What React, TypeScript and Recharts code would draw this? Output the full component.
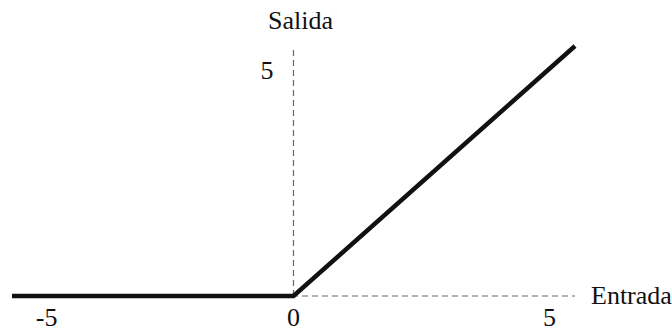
import { LineChart, Line, XAxis, YAxis, ReferenceLine, ReferenceDot, Label } from 'recharts';

// ReLU: salida = max(0, entrada)
const entrada = [-5.5, 0, 5.5];
const salida = [0, 0, 5.5];
const xTicks = [-5, 0, 5];
const yTickValue = 5;

const data = entrada.map((x, i) => ({ x, y: salida[i] }));

const FONT = 'Liberation Serif';
const SIZE = 26;
const INK = '#111';

const renderXTick = (props: any) => {
  const { x, y, payload } = props;
  const v = payload.value as number;
  return (
    <text
      x={x + (v < 0 ? 9 : 0)}
      y={y + 22}
      textAnchor="middle"
      fontFamily={FONT}
      fontSize={SIZE}
      fill={INK}
    >
      {v}
    </text>
  );
};

const salidaLabel = (props: any) => {
  const vb = props.viewBox;
  return (
    <text x={vb.x + 7} y={vb.y - 17} textAnchor="middle" fontFamily={FONT} fontSize={SIZE} fill={INK}>
      Salida
    </text>
  );
};

const entradaLabel = (props: any) => {
  const vb = props.viewBox;
  return (
    <text x={vb.x + vb.width + 16} y={vb.y + 8} textAnchor="start" fontFamily={FONT} fontSize={SIZE} fill={INK}>
      Entrada
    </text>
  );
};

const yTickLabel = (props: any) => {
  const vb = props.viewBox;
  const cx = vb.x + vb.width / 2;
  const cy = vb.y + vb.height / 2;
  return (
    <text x={cx - 20} y={cy + 10} textAnchor="end" fontFamily={FONT} fontSize={SIZE} fill={INK}>
      {yTickValue}
    </text>
  );
};

export default function App() {
  return (
    <div style={{ position: 'absolute', left: 0, top: 0, background: '#fff' }}>
      <LineChart
        width={672}
        height={333}
        data={data}
        margin={{ top: 46, right: 97, bottom: 7, left: 12 }}
      >
        <XAxis
          type="number"
          dataKey="x"
          domain={[-5.5, 5.5]}
          ticks={xTicks}
          axisLine={false}
          tickLine={false}
          height={30}
          tick={renderXTick}
          interval={0}
        />
        <YAxis type="number" domain={[0, 5.5]} hide />
        <ReferenceLine x={0} stroke="#666" strokeWidth={1.2} strokeDasharray="6 4">
          <Label content={salidaLabel} />
        </ReferenceLine>
        <ReferenceLine y={0} stroke="#666" strokeWidth={1.2} strokeDasharray="6 4">
          <Label content={entradaLabel} />
        </ReferenceLine>
        <ReferenceDot x={0} y={yTickValue} r={0} stroke="none" fill="none">
          <Label content={yTickLabel} />
        </ReferenceDot>
        <Line
          type="linear"
          dataKey="y"
          stroke={INK}
          strokeWidth={4.5}
          dot={false}
          activeDot={false}
          isAnimationActive={false}
        />
      </LineChart>
    </div>
  );
}
